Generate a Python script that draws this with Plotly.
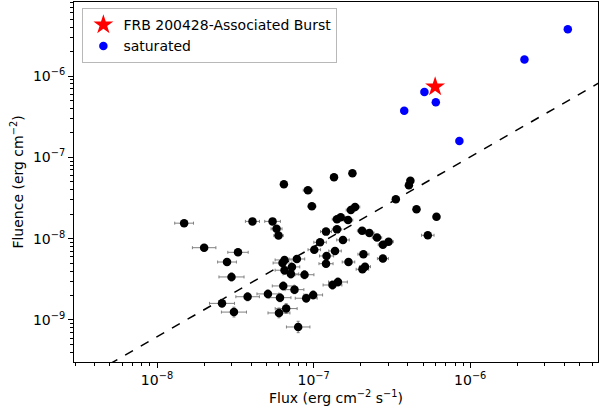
import plotly.graph_objects as go

# ---------------- data ----------------
flux = [1.49e-8, 2.00e-8, 3.29e-8, 2.80e-8, 2.99e-8, 2.60e-8, 3.10e-8, 4.07e-8, 5.47e-8, 5.80e-8,
        5.97e-8, 6.46e-8, 9.20e-8, 9.75e-8, 1.35e-7, 1.77e-7, 1.41e-7, 1.49e-7, 1.66e-7, 1.73e-7,
        1.84e-7, 1.41e-7, 1.20e-7, 1.10e-7, 1.01e-7, 1.54e-7, 1.37e-7, 1.21e-7, 1.20e-7, 6.52e-8,
        6.33e-8, 7.82e-8, 7.27e-8, 6.52e-8, 7.16e-8, 8.75e-8, 6.40e-8, 7.55e-8, 5.11e-8, 3.79e-8,
        6.10e-8, 9.94e-8, 8.97e-8, 1.32e-7, 1.43e-7, 6.68e-8, 6.01e-8, 7.97e-8, 2.04e-7, 2.27e-7,
        2.54e-7, 3.01e-7, 2.77e-7, 2.08e-7, 2.77e-7, 1.67e-7, 2.13e-7, 2.05e-7, 3.35e-7, 4.06e-7,
        4.15e-7, 4.54e-7, 6.09e-7, 5.36e-7]
fluence = [1.55e-8, 7.74e-9, 6.79e-9, 5.16e-9, 3.38e-9, 1.60e-9, 1.25e-9, 1.63e-8, 1.63e-8, 1.32e-8,
           1.09e-8, 4.66e-8, 3.94e-8, 2.50e-8, 5.68e-8, 6.37e-8, 1.73e-8, 1.83e-8, 1.69e-8, 2.25e-8,
           2.45e-8, 1.30e-8, 1.22e-8, 9.02e-9, 7.31e-9, 9.64e-9, 7.05e-9, 6.12e-9, 4.92e-9, 5.47e-9,
           5.02e-9, 5.62e-9, 4.49e-9, 4.09e-9, 3.68e-9, 3.60e-9, 2.62e-9, 2.36e-9, 2.09e-9, 1.93e-9,
           1.88e-9, 2.03e-9, 1.85e-9, 2.69e-9, 2.93e-9, 1.38e-9, 1.22e-9, 8.20e-10, 1.25e-8, 1.17e-8,
           1.03e-8, 9.18e-9, 8.43e-9, 6.43e-9, 5.68e-9, 5.16e-9, 4.52e-9, 4.20e-9, 3.05e-8, 4.53e-8,
           5.16e-8, 2.30e-8, 1.86e-8, 1.10e-8]
# errors in dex (log10 half-widths)
flux_err_dex = [0.06, 0.075, 0.065, 0.06, 0.08, 0.08, 0.08, 0.045, 0.05, 0.035,
                0.03, 0.02, 0.03, 0.025, 0.02, 0.02, 0.03, 0.03, 0.03, 0.03,
                0.03, 0.03, 0.035, 0.04, 0.04, 0.04, 0.04, 0.045, 0.045, 0.06,
                0.06, 0.05, 0.05, 0.06, 0.05, 0.06, 0.07, 0.06, 0.07, 0.075,
                0.07, 0.06, 0.07, 0.06, 0.06, 0.07, 0.07, 0.075, 0.03, 0.03,
                0.03, 0.03, 0.03, 0.035, 0.035, 0.04, 0.035, 0.04, 0.02, 0.02,
                0.02, 0.02, 0.02, 0.04]
fluence_err_dex = [0.03, 0.04, 0.04, 0.04, 0.05, 0.05, 0.06, 0.03, 0.03, 0.03,
                   0.03, 0.02, 0.02, 0.02, 0.02, 0.02, 0.03, 0.03, 0.03, 0.03,
                   0.03, 0.03, 0.03, 0.03, 0.04, 0.03, 0.04, 0.04, 0.04, 0.04,
                   0.04, 0.04, 0.04, 0.05, 0.05, 0.05, 0.05, 0.05, 0.05, 0.05,
                   0.05, 0.05, 0.05, 0.05, 0.05, 0.06, 0.06, 0.07, 0.03, 0.03,
                   0.03, 0.03, 0.03, 0.04, 0.04, 0.04, 0.04, 0.04, 0.02, 0.02,
                   0.02, 0.03, 0.03, 0.03]

sat_flux = [3.79e-7, 5.10e-7, 6.03e-7, 8.53e-7, 2.22e-6, 4.20e-6]
sat_fluence = [3.74e-7, 6.36e-7, 4.75e-7, 1.59e-7, 1.60e-6, 3.75e-6]
sat_err_dex = [0.01, 0.01, 0.01, 0.01, 0.01, 0.01]

frb_flux = [5.97e-7]
frb_fluence = [7.38e-7]
frb_err_dex = [0.01]

line_x = [2.5e-9, 8.0e-6]
line_y = [1.34e-10, 1.01e-6]

x_tick_vals = [1e-8, 1e-7, 1e-6]
x_tick_text = ["10<sup>−8</sup>", "10<sup>−7</sup>", "10<sup>−6</sup>"]
y_tick_vals = [1e-9, 1e-8, 1e-7, 1e-6]
y_tick_text = ["10<sup>−9</sup>", "10<sup>−8</sup>", "10<sup>−7</sup>", "10<sup>−6</sup>"]


def err_plus(vals, dex):
    return [v * (10 ** d - 1) for v, d in zip(vals, dex)]


def err_minus(vals, dex):
    return [v * (1 - 10 ** (-d)) for v, d in zip(vals, dex)]


def minor_ticks(lo_exp, hi_exp):
    out = []
    for e in range(lo_exp, hi_exp + 1):
        for m in range(2, 10):
            out.append(m * 10 ** e)
    return out


FONT = "DejaVu Sans"
ERRC = "#808080"

fig = go.Figure()

fig.add_trace(go.Scatter(
    x=line_x, y=line_y, mode="lines",
    line=dict(color="black", width=1.5, dash="dash"),
    showlegend=False, hoverinfo="skip"))

fig.add_trace(go.Scatter(
    x=flux, y=fluence, mode="markers",
    marker=dict(color="black", size=8.5, line=dict(width=0)),
    error_x=dict(type="data", symmetric=False,
                 array=err_plus(flux, flux_err_dex), arrayminus=err_minus(flux, flux_err_dex),
                 color=ERRC, thickness=1, width=1.5),
    error_y=dict(type="data", symmetric=False,
                 array=err_plus(fluence, fluence_err_dex), arrayminus=err_minus(fluence, fluence_err_dex),
                 color=ERRC, thickness=1, width=1.5),
    showlegend=False))

fig.add_trace(go.Scatter(
    x=frb_flux, y=frb_fluence, mode="markers", name="FRB 200428-Associated Burst",
    marker=dict(color="red", size=15, symbol="star", line=dict(width=0)),
    error_x=dict(type="data", symmetric=False,
                 array=err_plus(frb_flux, frb_err_dex), arrayminus=err_minus(frb_flux, frb_err_dex),
                 color=ERRC, thickness=1, width=1.5),
    error_y=dict(type="data", symmetric=False,
                 array=err_plus(frb_fluence, frb_err_dex), arrayminus=err_minus(frb_fluence, frb_err_dex),
                 color=ERRC, thickness=1, width=1.5)))

fig.add_trace(go.Scatter(
    x=sat_flux, y=sat_fluence, mode="markers", name="saturated",
    marker=dict(color="blue", size=8.5, line=dict(width=0)),
    error_x=dict(type="data", symmetric=False,
                 array=err_plus(sat_flux, sat_err_dex), arrayminus=err_minus(sat_flux, sat_err_dex),
                 color=ERRC, thickness=1, width=1.5),
    error_y=dict(type="data", symmetric=False,
                 array=err_plus(sat_fluence, sat_err_dex), arrayminus=err_minus(sat_fluence, sat_err_dex),
                 color=ERRC, thickness=1, width=1.5)))

axis_common = dict(
    type="log", showgrid=False, zeroline=False, automargin=False,
    showline=True, linecolor="black", linewidth=1, mirror=True,
    ticks="outside", ticklen=5, tickwidth=1, tickcolor="black",
    tickfont=dict(family=FONT, size=14, color="black"),
    tickmode="array",
)

fig.update_xaxes(
    **axis_common,
    range=[-8.53, -5.184],
    tickvals=x_tick_vals, ticktext=x_tick_text,
    minor=dict(ticks="outside", ticklen=3, tickwidth=0.8, tickcolor="black",
               tickmode="array", tickvals=minor_ticks(-9, -6), showgrid=False),
    title=dict(text="Flux (erg cm<sup>−2</sup> s<sup>−1</sup>)",
               font=dict(family=FONT, size=14, color="black"), standoff=4),
)
fig.update_yaxes(
    **axis_common,
    range=[-9.517, -5.09],
    tickvals=y_tick_vals, ticktext=y_tick_text,
    minor=dict(ticks="outside", ticklen=3, tickwidth=0.8, tickcolor="black",
               tickmode="array", tickvals=minor_ticks(-10, -6), showgrid=False),
    title=dict(text="Fluence (erg cm<sup>−2</sup>)",
               font=dict(family=FONT, size=14, color="black"), standoff=6),
)

fig.update_layout(
    width=599, height=408,
    margin=dict(l=74, r=1, t=2, b=46, pad=0, autoexpand=False),
    paper_bgcolor="white", plot_bgcolor="white",
    font=dict(family=FONT, size=14, color="black"),
    legend=dict(x=0.016, y=0.983, xanchor="left", yanchor="top",
                bgcolor="white", bordercolor="#b8b8b8", borderwidth=1,
                font=dict(family=FONT, size=14, color="black"),
                tracegroupgap=0, itemwidth=30),
)

fig.write_html(
    "out.html",
    config={"displayModeBar": False},
    post_script="document.body.style.margin='0';document.body.style.padding='0';"
                "document.body.style.overflow='hidden';",
)
